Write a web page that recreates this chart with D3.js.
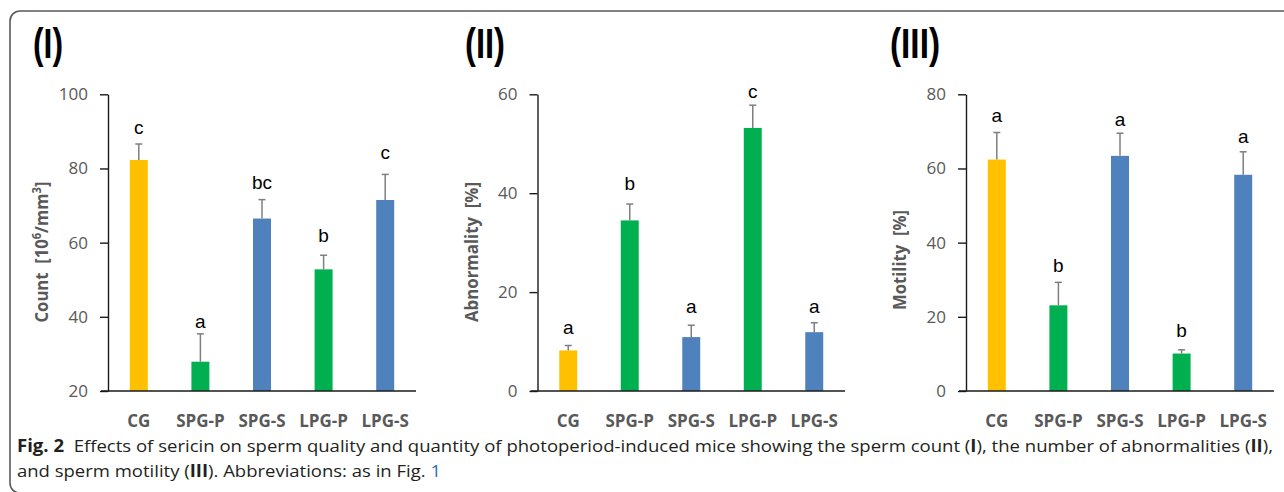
<!DOCTYPE html>
<html><head><meta charset="utf-8">
<script src="https://cdn.jsdelivr.net/npm/d3@7"></script>
<style>
html,body{margin:0;padding:0;background:#fff;}
svg{display:block;}
</style></head>
<body>
<svg id="chart" width="1284" height="492"></svg>
<script>
// ---------- data ----------
const categories = ["CG", "SPG-P", "SPG-S", "LPG-P", "LPG-S"];
const barColors = ["#FFC000", "#00B050", "#4F81BD", "#00B050", "#4F81BD"];

const countMean = [82.3, 27.9, 66.5, 52.8, 71.5];
const countErr = [4.3, 7.5, 5.1, 3.8, 6.9];
const countLetters = ["c", "a", "bc", "b", "c"];
const countLetterY = [89.4, 36.9, 74.6, 60.2, 82.6];
const countTicks = [20, 40, 60, 80, 100];

const abnMean = [8.2, 34.5, 10.9, 53.2, 11.9];
const abnErr = [1.0, 3.3, 2.4, 4.6, 1.9];
const abnLetters = ["a", "b", "a", "c", "a"];
const abnLetterY = [11.5, 40.6, 15.7, 59.2, 15.7];
const abnTicks = [0, 20, 40, 60];

const motMean = [62.4, 23.1, 63.4, 10.1, 58.3];
const motErr = [7.3, 6.2, 6.1, 1.0, 6.2];
const motLetters = ["a", "b", "a", "b", "a"];
const motLetterY = [72.6, 32.2, 71.5, 14.5, 67.0];
const motTicks = [0, 20, 40, 60, 80];

const panelTags = ["(I)", "(II)", "(III)"];

// ---------- drawing ----------
const svg = d3.select("#chart");

// frame
svg.append("rect")
  .attr("x", 10).attr("y", 11).attr("width", 1300).attr("height", 482)
  .attr("rx", 10).attr("ry", 10)
  .attr("fill", "none").attr("stroke", "#5a5a5a").attr("stroke-width", 1.6);

const panels = [
  {ax: 108, end: 416, domain: [20, 100], mean: countMean, err: countErr, letters: countLetters, letterY: countLetterY, ticks: countTicks,
   tag: panelTags[0], tagX: 33, tagW: 30, titleX: 48, titleLen: 141, titleY: 252, title: "count"},
  {ax: 537.5, end: 845, domain: [0, 60], mean: abnMean, err: abnErr, letters: abnLetters, letterY: abnLetterY, ticks: abnTicks,
   tag: panelTags[1], tagX: 465, tagW: 40, titleX: 478, titleLen: 140, titleY: 252, title: "Abnormality  [%]"},
  {ax: 966, end: 1274, domain: [0, 80], mean: motMean, err: motErr, letters: motLetters, letterY: motLetterY, ticks: motTicks,
   tag: panelTags[2], tagX: 890, tagW: 50, titleX: 906, titleLen: 100, titleY: 260, title: "Motility  [%]"}
];

const yTop = 94.3, yBot = 391;
const gray = "#595959";

panels.forEach(p => {
  const g = svg.append("g");
  const x = d3.scaleBand().domain(categories).range([p.ax, p.end])
    .paddingInner(0.708).paddingOuter(0.354);
  const y = d3.scaleLinear().domain(p.domain).range([yBot, yTop]);

  // panel tag
  g.append("text").attr("x", p.tagX).attr("y", 58)
    .attr("font-family", "Liberation Sans, Arial, sans-serif")
    .attr("font-weight", "bold").attr("font-size", 42)
    .attr("textLength", p.tagW).attr("lengthAdjust", "spacingAndGlyphs")
    .attr("fill", "#000").text(p.tag);

  // y axis
  const yAxis = d3.axisLeft(y).tickValues(p.ticks).tickSize(8).tickPadding(12).tickSizeOuter(0);
  const ya = g.append("g").attr("transform", `translate(${p.ax},0)`).call(yAxis);
  ya.select(".domain").attr("stroke", "#1a1a1a").attr("stroke-width", 1.4);
  ya.selectAll(".tick line").attr("stroke", "#1a1a1a").attr("stroke-width", 1.4);
  ya.selectAll(".tick text").attr("font-family", "Open Sans, sans-serif")
    .attr("font-size", 17).attr("fill", gray);

  // bars
  g.selectAll("rect.bar").data(categories).enter().append("rect")
    .attr("class", "bar")
    .attr("x", d => x(d)).attr("width", x.bandwidth())
    .attr("y", (d, i) => y(p.mean[i]))
    .attr("height", (d, i) => y(p.domain[0]) - y(p.mean[i]))
    .attr("fill", (d, i) => barColors[i]);

  // error bars (upper only)
  const eb = g.selectAll("g.eb").data(categories).enter().append("g").attr("class", "eb");
  eb.append("line")
    .attr("x1", d => x(d) + x.bandwidth() / 2).attr("x2", d => x(d) + x.bandwidth() / 2)
    .attr("y1", (d, i) => y(p.mean[i])).attr("y2", (d, i) => y(p.mean[i] + p.err[i]))
    .attr("stroke", "#7f7f7f").attr("stroke-width", 1.5);
  eb.append("line")
    .attr("x1", d => x(d) + x.bandwidth() / 2 - 3.5).attr("x2", d => x(d) + x.bandwidth() / 2 + 3.5)
    .attr("y1", (d, i) => y(p.mean[i] + p.err[i])).attr("y2", (d, i) => y(p.mean[i] + p.err[i]))
    .attr("stroke", "#7f7f7f").attr("stroke-width", 1.5);

  // significance letters
  g.selectAll("text.let").data(categories).enter().append("text")
    .attr("class", "let")
    .attr("x", d => x(d) + x.bandwidth() / 2)
    .attr("y", (d, i) => y(p.letterY[i]))
    .attr("text-anchor", "middle")
    .attr("font-family", "Liberation Sans, Arial, sans-serif")
    .attr("font-size", 19).attr("fill", "#000")
    .text((d, i) => p.letters[i]);

  // x axis line
  g.append("line").attr("x1", p.ax - 7).attr("x2", p.end)
    .attr("y1", yBot).attr("y2", yBot)
    .attr("stroke", "#1a1a1a").attr("stroke-width", 1.5);

  // category labels
  g.selectAll("text.cat").data(categories).enter().append("text")
    .attr("class", "cat")
    .attr("x", d => x(d) + x.bandwidth() / 2).attr("y", 427)
    .attr("text-anchor", "middle")
    .attr("font-family", "Open Sans, sans-serif").attr("font-weight", "bold")
    .attr("font-size", 17).attr("fill", gray)
    .text(d => d);

  // y axis title
  const t = g.append("text")
    .attr("transform", `translate(${p.titleX},${p.titleY}) rotate(-90)`)
    .attr("text-anchor", "middle")
    .attr("font-family", "Open Sans, sans-serif").attr("font-weight", "bold")
    .attr("font-size", 18).attr("fill", gray)
    .attr("textLength", p.titleLen).attr("lengthAdjust", "spacingAndGlyphs")
    .attr("xml:space", "preserve");
  if (p.title === "count") {
    t.append("tspan").text("Count  [10");
    t.append("tspan").attr("font-size", 12).attr("dy", -7).text("6");
    t.append("tspan").attr("dy", 7).text("/mm");
    t.append("tspan").attr("font-size", 12).attr("dy", -7).text("3");
    t.append("tspan").attr("dy", 7).text("]");
  } else {
    t.text(p.title);
  }
});

// caption
const capFont = "Open Sans, sans-serif";
const c1 = svg.append("text").attr("x", 17).attr("y", 452)
  .attr("font-family", capFont).attr("font-size", 17).attr("fill", "#231f20")
  .attr("textLength", 1256).attr("lengthAdjust", "spacingAndGlyphs")
  .attr("xml:space", "preserve");
c1.append("tspan").attr("font-weight", "bold").text("Fig. 2");
c1.append("tspan").text("  Effects of sericin on sperm quality and quantity of photoperiod-induced mice showing the sperm count (");
c1.append("tspan").attr("font-weight", "bold").text("I");
c1.append("tspan").text("), the number of abnormalities (");
c1.append("tspan").attr("font-weight", "bold").text("II");
c1.append("tspan").text("),");

const c2 = svg.append("text").attr("x", 17).attr("y", 477)
  .attr("font-family", capFont).attr("font-size", 17).attr("fill", "#231f20")
  .attr("textLength", 424).attr("lengthAdjust", "spacingAndGlyphs")
  .attr("xml:space", "preserve");
c2.append("tspan").text("and sperm motility (");
c2.append("tspan").attr("font-weight", "bold").text("III");
c2.append("tspan").text("). Abbreviations: as in Fig. ");
c2.append("tspan").attr("fill", "#2a6ebb").text("1");
</script>
</body></html>
